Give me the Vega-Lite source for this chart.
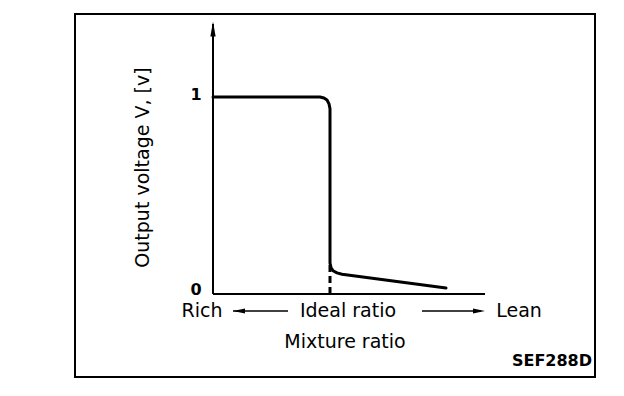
{
  "$schema": "https://vega.github.io/schema/vega-lite/v6.json",
  "width": 624,
  "height": 396,
  "autosize": {"type": "fit", "contains": "padding"},
  "padding": 0,
  "background": "white",
  "config": {"view": {"stroke": null}},
  "datasets": {
    "curve": [
      {"mix": 0, "volt": 1},
      {"mix": 107, "volt": 1},
      {"mix": 111, "volt": 0.995},
      {"mix": 114, "volt": 0.985},
      {"mix": 116, "volt": 0.965},
      {"mix": 117, "volt": 0.94},
      {"mix": 117, "volt": 0.157},
      {"mix": 118, "volt": 0.135},
      {"mix": 120, "volt": 0.118},
      {"mix": 124, "volt": 0.107},
      {"mix": 129, "volt": 0.1},
      {"mix": 233, "volt": 0.03}
    ],
    "frame": [{"x1": -138, "x2": 382, "y1": -0.4213, "y2": 1.4213}],
    "yaxis": [{"x1": 0, "x2": 0, "y1": 0, "y2": 1.37}],
    "xaxis": [{"x1": 0, "x2": 272, "y1": 0, "y2": 0}],
    "ideal": [{"x1": 117, "x2": 117, "y1": 0, "y2": 0.16}],
    "arrowsLine": [
      {"x1": 20, "x2": 75, "y1": -0.0863, "y2": -0.0863},
      {"x1": 209, "x2": 268, "y1": -0.0863, "y2": -0.0863}
    ],
    "headUp": [{"x": 0, "y": 1.345}],
    "headLeft": [{"x": 26, "y": -0.0863}],
    "headRight": [{"x": 266, "y": -0.0863}],
    "labels": [
      {"x": -11, "y": -0.0863, "t": "Rich"},
      {"x": 135, "y": -0.0863, "t": "Ideal ratio"},
      {"x": 306, "y": -0.0863, "t": "Lean"},
      {"x": 132, "y": -0.2437, "t": "Mixture ratio"}
    ],
    "ticks": [
      {"x": -17, "y": 1.01, "t": "1"},
      {"x": -17, "y": 0.02, "t": "0"}
    ],
    "code": [{"x": 379, "y": -0.34, "t": "SEF288D"}],
    "ytitle": [{"x": -70, "y": 0.642, "t": "Output voltage V, [v]"}]
  },
  "layer": [
    {
      "data": {"name": "frame"},
      "mark": {"type": "rect", "fill": null, "stroke": "black", "strokeWidth": 2},
      "encoding": {
        "x": {"field": "x1", "type": "quantitative", "scale": {"domain": [-213, 411], "nice": false, "zero": false}, "axis": null},
        "x2": {"field": "x2"},
        "y": {"field": "y1", "type": "quantitative", "scale": {"domain": [-0.5178, 1.4924], "nice": false, "zero": false}, "axis": null},
        "y2": {"field": "y2"}
      }
    },
    {
      "data": {"name": "yaxis"},
      "mark": {"type": "rule", "stroke": "black", "strokeWidth": 2},
      "encoding": {
        "x": {"field": "x1", "type": "quantitative"},
        "y": {"field": "y1", "type": "quantitative"},
        "y2": {"field": "y2"}
      }
    },
    {
      "data": {"name": "xaxis"},
      "mark": {"type": "rule", "stroke": "black", "strokeWidth": 2},
      "encoding": {
        "x": {"field": "x1", "type": "quantitative"},
        "x2": {"field": "x2"},
        "y": {"field": "y1", "type": "quantitative"}
      }
    },
    {
      "data": {"name": "ideal"},
      "mark": {"type": "rule", "stroke": "black", "strokeWidth": 3, "strokeDash": [7, 4]},
      "encoding": {
        "x": {"field": "x1", "type": "quantitative"},
        "y": {"field": "y1", "type": "quantitative"},
        "y2": {"field": "y2"}
      }
    },
    {
      "data": {"name": "arrowsLine"},
      "mark": {"type": "rule", "stroke": "black", "strokeWidth": 1.5},
      "encoding": {
        "x": {"field": "x1", "type": "quantitative"},
        "x2": {"field": "x2"},
        "y": {"field": "y1", "type": "quantitative"}
      }
    },
    {
      "data": {"name": "headUp"},
      "mark": {"type": "point", "shape": "M-0.35,1L0,-1L0.35,1Z", "size": 225, "filled": true, "color": "black", "opacity": 1},
      "encoding": {
        "x": {"field": "x", "type": "quantitative"},
        "y": {"field": "y", "type": "quantitative"}
      }
    },
    {
      "data": {"name": "headLeft"},
      "mark": {"type": "point", "shape": "M1,-0.4L-1,0L1,0.4Z", "size": 144, "filled": true, "color": "black", "opacity": 1},
      "encoding": {
        "x": {"field": "x", "type": "quantitative"},
        "y": {"field": "y", "type": "quantitative"}
      }
    },
    {
      "data": {"name": "headRight"},
      "mark": {"type": "point", "shape": "M-1,-0.4L1,0L-1,0.4Z", "size": 144, "filled": true, "color": "black", "opacity": 1},
      "encoding": {
        "x": {"field": "x", "type": "quantitative"},
        "y": {"field": "y", "type": "quantitative"}
      }
    },
    {
      "data": {"name": "curve"},
      "mark": {"type": "line", "stroke": "black", "strokeWidth": 3, "strokeJoin": "round", "strokeCap": "round"},
      "encoding": {
        "x": {"field": "mix", "type": "quantitative"},
        "y": {"field": "volt", "type": "quantitative"},
        "order": {"value": null}
      }
    },
    {
      "data": {"name": "labels"},
      "mark": {"type": "text", "font": "DejaVu Sans", "fontSize": 19, "color": "black", "align": "center", "baseline": "middle"},
      "encoding": {
        "x": {"field": "x", "type": "quantitative"},
        "y": {"field": "y", "type": "quantitative"},
        "text": {"field": "t"}
      }
    },
    {
      "data": {"name": "ticks"},
      "mark": {"type": "text", "font": "DejaVu Sans", "fontSize": 16, "fontWeight": "bold", "color": "black", "align": "center", "baseline": "middle"},
      "encoding": {
        "x": {"field": "x", "type": "quantitative"},
        "y": {"field": "y", "type": "quantitative"},
        "text": {"field": "t"}
      }
    },
    {
      "data": {"name": "code"},
      "mark": {"type": "text", "font": "DejaVu Sans", "fontSize": 16, "fontWeight": "bold", "color": "black", "align": "right", "baseline": "middle"},
      "encoding": {
        "x": {"field": "x", "type": "quantitative"},
        "y": {"field": "y", "type": "quantitative"},
        "text": {"field": "t"}
      }
    },
    {
      "data": {"name": "ytitle"},
      "mark": {"type": "text", "font": "DejaVu Sans", "fontSize": 19, "angle": 270, "color": "black", "align": "center", "baseline": "middle"},
      "encoding": {
        "x": {"field": "x", "type": "quantitative"},
        "y": {"field": "y", "type": "quantitative"},
        "text": {"field": "t"}
      }
    }
  ]
}
